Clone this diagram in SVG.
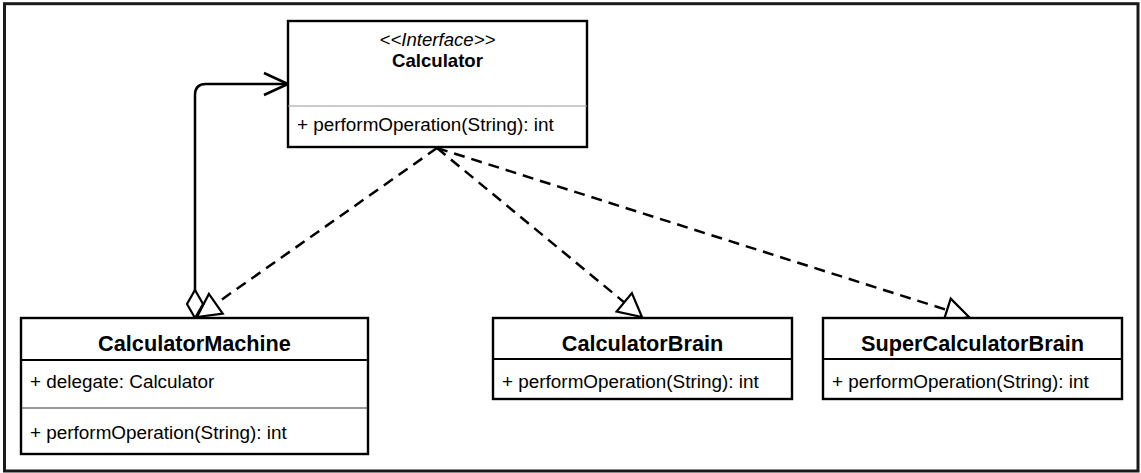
<svg xmlns="http://www.w3.org/2000/svg" width="1141" height="473" viewBox="0 0 1141 473">
<style>
.box{fill:#fff;stroke:#000;stroke-width:2.4}
.t{font-family:"Liberation Sans",Arial,sans-serif;fill:#000}
.m{font-size:18.9px}
.title{font-size:21.7px;font-weight:bold}
.ititle{font-size:18.6px;font-weight:bold}
.st{font-size:18.6px;font-style:italic}
.div1{stroke:#000;stroke-width:2}
.div2{stroke:#333;stroke-width:1.2}
.divg{stroke:#999;stroke-width:1.2}
.dash{fill:none;stroke:#000;stroke-width:2.5;stroke-dasharray:11 7}
.solid{fill:none;stroke:#000;stroke-width:2.5}
</style>
<defs>
<marker id="tri" markerUnits="userSpaceOnUse" viewBox="0 0 28 28" refX="25" refY="14" markerWidth="28" markerHeight="28" orient="auto">
<path d="M2,2 L25,14 L2,26 Z" fill="#fff" stroke="#000" stroke-width="2.2"/>
</marker>
<marker id="open" markerUnits="userSpaceOnUse" viewBox="0 0 28 26" refX="26" refY="13" markerWidth="28" markerHeight="26" orient="auto">
<path d="M2,2 L26,13 L2,24" fill="none" stroke="#000" stroke-width="2.5"/>
</marker>
<marker id="dia" markerUnits="userSpaceOnUse" viewBox="0 0 32 20" refX="1" refY="10" markerWidth="32" markerHeight="20" orient="auto">
<path d="M1,10 L15,2 L29,10 L15,18 Z" fill="#fff" stroke="#000" stroke-width="2.2"/>
</marker>
</defs>
<rect x="4.5" y="3.7" width="1133.5" height="467.3" fill="#fff" stroke="#1a1a1a" stroke-width="3"/>
<g id="connectors">
<path class="solid" d="M195,318 L195,95 Q195,84 206,84 L288,84" marker-start="url(#dia)" marker-end="url(#open)"/>
<path class="dash" d="M437,148 L197,317" marker-end="url(#tri)"/>
<path class="dash" d="M437,148 L642,317" marker-end="url(#tri)"/>
<path class="dash" d="M437,148 L969,317" marker-end="url(#tri)"/>
</g>
<g id="Calculator">
<rect class="box" x="288" y="21" width="299" height="126"/>
<line class="divg" x1="288" y1="106" x2="587" y2="106"/>
<text class="t st" x="437.5" y="46" text-anchor="middle">&lt;&lt;Interface&gt;&gt;</text>
<text class="t ititle" x="437.5" y="67" text-anchor="middle">Calculator</text>
<text class="t m" x="297" y="131">+ performOperation(String): int</text>
</g>
<g id="CalculatorMachine">
<rect class="box" x="21" y="318" width="347" height="136"/>
<line class="div1" x1="21" y1="360" x2="368" y2="360"/>
<line class="div2" x1="21" y1="408" x2="368" y2="408"/>
<text class="t title" x="194.5" y="351" text-anchor="middle">CalculatorMachine</text>
<text class="t m" x="30" y="388">+ delegate: Calculator</text>
<text class="t m" x="30" y="439">+ performOperation(String): int</text>
</g>
<g id="CalculatorBrain">
<rect class="box" x="493" y="318" width="299" height="81"/>
<line class="div1" x1="493" y1="359" x2="792" y2="359"/>
<text class="t title" x="642.5" y="351" text-anchor="middle">CalculatorBrain</text>
<text class="t m" x="502" y="388">+ performOperation(String): int</text>
</g>
<g id="SuperCalculatorBrain">
<rect class="box" x="823" y="318" width="299" height="81"/>
<line class="div1" x1="823" y1="359" x2="1122" y2="359"/>
<text class="t title" x="972.5" y="351" text-anchor="middle">SuperCalculatorBrain</text>
<text class="t m" x="832" y="388">+ performOperation(String): int</text>
</g>
</svg>
